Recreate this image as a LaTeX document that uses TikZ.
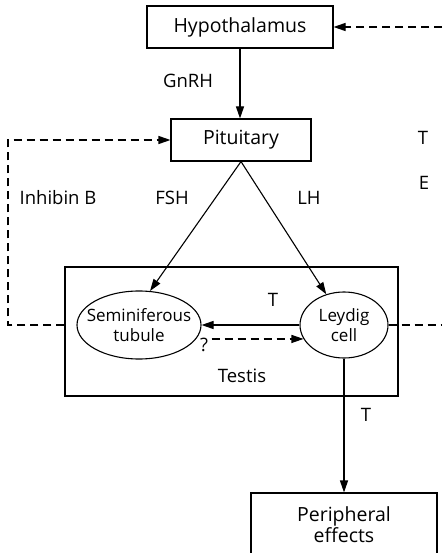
\documentclass[tikz,border=0pt]{standalone}
\usepackage{fontspec}
\setmainfont{Open Sans}
\usetikzlibrary{
    positioning,
    arrows.meta,
    shapes.geometric,
}
\tikzset{
    % Box styles
    organ/.style={rectangle, draw, line width=1.1pt, align=center,
                  font=\fontsize{19.5}{21}\selectfont},
    cell/.style={ellipse, draw, line width=1.1pt, inner sep=0pt},
    cell text/.style={align=center, font=\fontsize{17}{20}\selectfont},
    % Arrow styles
    arrow/.style={-{Triangle[length=12pt, width=8pt]}, line width=1.1pt},
    feedback/.style={arrow, dash pattern=on 8pt off 5pt},
    feedback line/.style={line width=1.1pt, dash pattern=on 8pt off 5pt},
}

\begin{document}
\begin{tikzpicture}[
    x=1pt, y=-1pt,
    font=\fontsize{18.5}{20}\selectfont,
]
    \useasboundingbox (0,0) rectangle (442,553);

    % Organs
    \node[organ, minimum width=186pt, minimum height=42pt] (hypo) at (240,27) {Hypothalamus};
    \node[organ, minimum width=140pt, minimum height=42pt] (pit) at (241,140) {Pituitary};
    \node[organ, minimum width=333pt, minimum height=129pt] (testis) at (231.5,331.5) {};
    \node[organ, minimum width=186pt, minimum height=64pt] (peri) at (344,525) {Peripheral\\effects};

    % Cells in the testis
    \node[cell, minimum width=124pt, minimum height=68pt] (tubule) at (139,325) {};
    \node[cell text] (tubule text) at (tubule) {Seminiferous\\tubule};
    \node[cell, minimum width=88pt, minimum height=66pt] (leydig) at (344,325) {};
    \node[cell text] (leydig text) at (leydig) {Leydig\\cell};

    % Labels
    \node (gnrh) at (188,81) {GnRH};
    \node (fsh) at (172,198) {FSH};
    \node (lh) at (309,198) {LH};
    \node (inhibin) at (58,198) {Inhibin B};
    \node (t top) at (423,138) {T};
    \node (e top) at (424,183) {E};
    \node (t mid) at (273,300) {T};
    \node (q) at (204,345) {?};
    \node (testis label) at (242,376) {Testis};
    \node (t low) at (366,415) {T};

    % Free ends of the feedback loops
    \coordinate (top in) at (442,27);
    \coordinate (right out) at (442,325);
    \coordinate (left low) at (8,325);
    \coordinate (left high) at (8,140);

    % Hormone arrows
    \draw[arrow] (hypo.south) -- (hypo.south |- pit.north);
    \draw[arrow] (pit.south) -- (tubule.72);
    \draw[arrow] (pit.south) -- (leydig.120);
    \draw[arrow] (leydig.west) -- (tubule.east);
    \draw[arrow] (leydig.south) -- (peri.north);

    % Feedback
    \draw[feedback] (q.east |- leydig.199) -- (leydig.199);
    \draw[feedback] (top in) -- (hypo.east);
    \draw[feedback line] (leydig.east) -- (right out);
    \draw[feedback] (testis.west |- tubule.west) -- (left low) -- (left high) -- (pit.west);
\end{tikzpicture}
\end{document}
